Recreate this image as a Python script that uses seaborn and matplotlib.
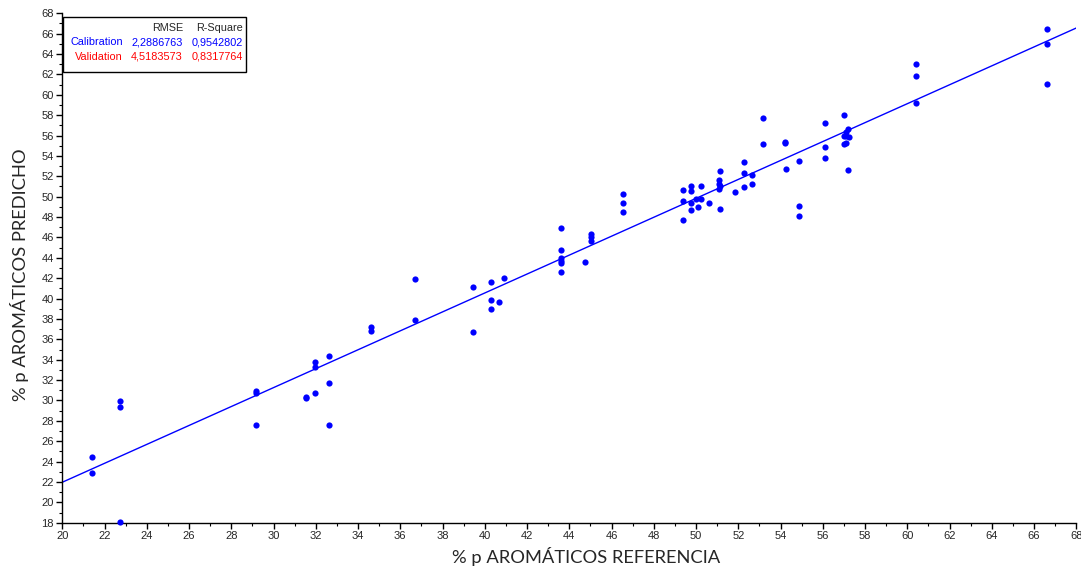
import matplotlib
matplotlib.use("Agg")
import matplotlib.pyplot as plt
import seaborn as sns
import pandas as pd
from matplotlib.ticker import MultipleLocator
from matplotlib.patches import Rectangle

# --- DATA ---
ref_x = [21.42, 21.42, 22.72, 22.72, 22.72, 29.19, 29.19, 29.19, 31.52, 31.52,
         31.96, 31.96, 31.96, 32.64, 32.64, 32.64, 34.63, 34.63, 36.70, 36.70,
         39.46, 39.46, 40.27, 40.27, 40.27, 40.66, 40.89, 43.62, 43.62, 43.62,
         43.62, 43.62, 43.62, 44.74, 45.03, 45.03, 45.03, 46.54, 46.54, 46.54,
         49.36, 49.36, 49.36, 49.78, 49.75, 49.78, 49.78, 49.99, 50.08, 50.22,
         50.22, 50.62, 51.12, 51.10, 51.10, 51.12, 51.10, 51.12, 51.85, 52.25,
         52.25, 52.25, 52.64, 52.64, 53.15, 53.15, 54.22, 54.22, 54.24, 54.88,
         54.88, 54.88, 56.09, 56.09, 56.09, 57.00, 57.18, 57.10, 57.00, 57.12,
         57.22, 57.00, 57.10, 57.20, 60.41, 60.41, 60.41, 66.62, 66.62, 66.62]
pred_y = [24.43, 22.86, 29.95, 29.36, 18.11, 30.95, 30.75, 27.63, 30.35, 30.22,
          33.81, 33.26, 30.71, 34.40, 31.69, 27.63, 37.24, 36.82, 41.90, 37.90,
          41.11, 36.72, 41.66, 39.83, 38.95, 39.64, 42.00, 46.92, 44.77, 43.96,
          43.72, 43.53, 42.56, 43.62, 46.34, 46.06, 45.68, 50.30, 49.41, 48.47,
          50.67, 49.61, 47.69, 51.08, 50.56, 49.35, 48.65, 49.81, 49.02, 51.08,
          49.81, 49.35, 52.52, 51.64, 51.25, 51.08, 50.75, 48.83, 50.49, 53.38,
          52.33, 50.98, 52.13, 51.26, 57.76, 55.14, 55.34, 55.24, 52.72, 53.50,
          49.06, 48.08, 57.28, 54.85, 53.78, 58.05, 56.62, 56.38, 55.96, 55.96,
          55.90, 55.17, 55.24, 52.62, 63.00, 61.85, 59.23, 66.46, 65.02, 61.05]

# regression line end points
fit_x = [20, 68]
fit_y = [21.97, 66.56]

# summary table
row_names = ["Calibration", "Validation"]
rmse_vals = ["2,2886763", "4,5183573"]
r2_vals = ["0,9542802", "0,8317764"]
row_colors = ["#0000FF", "#FF0000"]

sns.set_style("ticks")
plt.rcParams['font.family'] = ['Liberation Sans', 'DejaVu Sans']

df = pd.DataFrame({"ref": ref_x, "pred": pred_y})
line_df = pd.DataFrame({"x": fit_x, "y": fit_y})

fig = plt.figure(figsize=(10.81, 5.66), dpi=100)
ax = fig.add_axes([0.0576, 0.0765, 0.9381, 0.9000])

sns.lineplot(data=line_df, x="x", y="y", color="#0000FF", linewidth=1.0, ax=ax)
sns.scatterplot(data=df, x="ref", y="pred", color="#0000FF", s=20,
                linewidth=0, ax=ax, zorder=3, clip_on=False)

ax.set_xlim(20, 68)
ax.set_ylim(18, 68)
ax.xaxis.set_major_locator(MultipleLocator(2))
ax.xaxis.set_minor_locator(MultipleLocator(1))
ax.yaxis.set_major_locator(MultipleLocator(2))
ax.yaxis.set_minor_locator(MultipleLocator(1))
ax.tick_params(which="major", length=4, width=1, labelsize=8, color="black", pad=2)
ax.tick_params(which="minor", length=2.5, width=0.8, color="black")

for s in ["top", "right"]:
    ax.spines[s].set_visible(False)
for s in ["left", "bottom"]:
    ax.spines[s].set_color("black")
    ax.spines[s].set_linewidth(1.0)

ax.set_xlabel("% p AROMÁTICOS REFERENCIA", fontsize=13.2, family=["Lato", "DejaVu Sans"])
ax.set_ylabel("% p AROMÁTICOS PREDICHO", fontsize=13.2, family=["Lato", "DejaVu Sans"])
ax.xaxis.set_label_coords(0.517, -0.047)
ax.yaxis.set_label_coords(-0.033, 0.486)

# summary box
ax.add_patch(Rectangle((0.001, 0.885), 0.180, 0.108, transform=ax.transAxes,
                       facecolor="white", edgecolor="black", linewidth=1.0, zorder=5))
col_x = [0.060, 0.119, 0.178]
ax.text(col_x[1], 0.972, "RMSE", transform=ax.transAxes, ha="right", va="center",
        fontsize=7.8, zorder=6)
ax.text(col_x[2], 0.972, "R-Square", transform=ax.transAxes, ha="right", va="center",
        fontsize=7.8, zorder=6)
for i, name in enumerate(row_names):
    yy = 0.943 - i * 0.028
    for cx, val in zip(col_x, [name, rmse_vals[i], r2_vals[i]]):
        ax.text(cx, yy, val, transform=ax.transAxes, ha="right", va="center",
                fontsize=7.8, color=row_colors[i], zorder=6)

plt.savefig("out.png", dpi=100)
plt.close()
